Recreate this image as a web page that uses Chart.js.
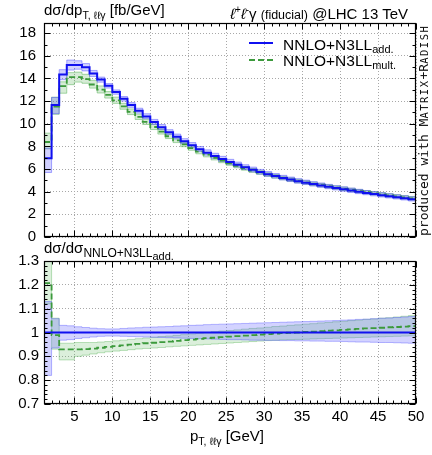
<!DOCTYPE html>
<html>
<head>
<meta charset="utf-8">
<script src="https://cdn.jsdelivr.net/npm/chart.js@4.4.1/dist/chart.umd.min.js"></script>
<style>
  body { margin: 0; width: 432px; height: 455px; background: #fff; position: relative; overflow: hidden;
         font-family: "Liberation Sans", Arial, sans-serif; color: #000; }
  canvas { position: absolute; left: 0; top: 0; }
  .txt { position: absolute; white-space: nowrap; font-size: 15px; line-height: 15px; }
  .sb { font-size: 10.5px; position: relative; top: 4px; }
  .sb2 { font-size: 11px; position: relative; top: 3px; }
  .it { font-style: italic; }
  .leg { position: absolute; height: 0; width: 24px; }
  #credit { position: absolute; left: 417px; top: 236px; transform-origin: 0 0; transform: rotate(-90deg);
            font-family: "DejaVu Sans Mono", monospace; font-size: 13px; line-height: 13px; white-space: nowrap; color: #111; }
  #credit .sc { font-size: 10.5px; letter-spacing: 1.5px; }
</style>
</head>
<body>
<canvas id="top" width="432" height="455"></canvas>
<canvas id="ratio" width="432" height="455"></canvas>

<div class="txt" style="left:44px; top:2px;">dσ/dp<span class="sb">T, ℓℓγ</span> [fb/GeV]</div>
<div class="txt" style="right:24px; top:2px;"><span class="it">ℓ</span><sup style="font-size:10px">+</sup><span class="it">ℓ</span><sup style="font-size:10px">-</sup>γ <span style="font-size:12.5px">(fiducial)</span> @LHC 13 TeV</div>

<div class="leg" style="left:249px; top:42px; border-top:2px solid #1010f0;"></div>
<div class="txt" style="left:283px; top:37px; font-size:15.5px;">NNLO+N3LL<span class="sb2">add.</span></div>
<div class="leg" style="left:249px; top:59px; border-top:2px dashed #3c9a3c;"></div>
<div class="txt" style="left:283px; top:53px; font-size:15.5px;">NNLO+N3LL<span class="sb2">mult.</span></div>

<div class="txt" style="left:44px; top:240px;">dσ/dσ<span style="font-size:12px; position:relative; top:4px;">NNLO+N3LL<span style="font-size:11px; position:relative; top:3px;">add.</span></span></div>

<div class="txt" style="left:190px; top:428px;">p<span class="sb">T, ℓℓγ</span> [GeV]</div>

<div id="credit">produced with M<span class="sc">ATRIX</span>+R<span class="sc">ADISH</span></div>

<script>
// bins are 1 GeV wide, low edges 1..49, last edge 50
const binLow = [1, 2, 3, 4, 5, 6, 7, 8, 9, 10, 11, 12, 13, 14, 15, 16, 17, 18, 19, 20, 21, 22, 23, 24, 25,
  26, 27, 28, 29, 30, 31, 32, 33, 34, 35, 36, 37, 38, 39, 40, 41, 42, 43, 44, 45, 46, 47, 48, 49];
const lastEdge = 50;

// NNLO+N3LL additive, fb/GeV
const add = [6.95, 11.65, 14.35, 15.2, 15.2, 15.0, 14.45, 13.9, 13.35, 12.8, 12.2, 11.65, 11.15, 10.65,
  10.15, 9.7, 9.25, 8.85, 8.45, 8.1, 7.75, 7.45, 7.15, 6.88, 6.62, 6.38, 6.15, 5.94, 5.74, 5.55, 5.38,
  5.22, 5.07, 4.93, 4.8, 4.67, 4.55, 4.43, 4.32, 4.21, 4.1, 3.99, 3.89, 3.79, 3.69, 3.6, 3.51, 3.42, 3.33];

// ratios to the additive central value
const addLo = [0.82, 0.935, 0.968, 0.97, 0.975, 0.978, 0.981, 0.984, 0.985, 0.985, 0.984, 0.983, 0.982,
  0.981, 0.98, 0.979, 0.978, 0.977, 0.976, 0.975, 0.974, 0.973, 0.972, 0.971, 0.97, 0.97, 0.969, 0.968,
  0.968, 0.967, 0.967, 0.966, 0.966, 0.965, 0.965, 0.964, 0.964, 0.963, 0.963, 0.962, 0.961, 0.96, 0.96,
  0.959, 0.958, 0.958, 0.957, 0.956, 0.955];
const addHi = [1.13, 1.058, 1.03, 1.028, 1.024, 1.021, 1.018, 1.016, 1.015, 1.015, 1.017, 1.019, 1.02,
  1.022, 1.023, 1.024, 1.025, 1.027, 1.028, 1.03, 1.031, 1.033, 1.034, 1.035, 1.036, 1.037, 1.038, 1.039,
  1.04, 1.041, 1.042, 1.043, 1.044, 1.045, 1.046, 1.047, 1.048, 1.049, 1.05, 1.052, 1.053, 1.055, 1.056,
  1.058, 1.06, 1.061, 1.063, 1.065, 1.067];
const multRatio = [1.207, 0.989, 0.929, 0.929, 0.929, 0.93, 0.932, 0.936, 0.94, 0.943, 0.946, 0.949,
  0.952, 0.955, 0.957, 0.96, 0.962, 0.965, 0.968, 0.97, 0.973, 0.976, 0.978, 0.981, 0.983, 0.985, 0.987,
  0.989, 0.991, 0.993, 0.995, 0.997, 0.999, 1.0, 1.002, 1.004, 1.006, 1.008, 1.009, 1.011, 1.013, 1.015,
  1.017, 1.018, 1.02, 1.022, 1.023, 1.025, 1.027];
const multLo = [1.12, 0.93, 0.885, 0.885, 0.9, 0.905, 0.91, 0.915, 0.919, 0.922, 0.925, 0.928, 0.931,
  0.933, 0.935, 0.937, 0.94, 0.942, 0.944, 0.946, 0.948, 0.95, 0.952, 0.954, 0.956, 0.958, 0.96, 0.962,
  0.964, 0.966, 0.967, 0.969, 0.97, 0.971, 0.972, 0.973, 0.974, 0.975, 0.976, 0.977, 0.978, 0.979, 0.98,
  0.981, 0.982, 0.983, 0.984, 0.985, 0.986];
const multHi = [1.32, 1.06, 0.955, 0.955, 0.958, 0.958, 0.958, 0.96, 0.962, 0.965, 0.968, 0.971, 0.974,
  0.977, 0.98, 0.983, 0.985, 0.988, 0.991, 0.994, 0.997, 1.0, 1.003, 1.006, 1.008, 1.011, 1.014, 1.017,
  1.019, 1.022, 1.025, 1.027, 1.03, 1.032, 1.035, 1.037, 1.04, 1.042, 1.045, 1.047, 1.05, 1.052, 1.055,
  1.057, 1.06, 1.062, 1.065, 1.068, 1.071];

const xTicks = [5, 10, 15, 20, 25, 30, 35, 40, 45, 50];
const yTicksTop = [0, 2, 4, 6, 8, 10, 12, 14, 16, 18];
const yTicksRatio = [0.7, 0.8, 0.9, 1, 1.1, 1.2, 1.3];

const fontFam = '"Liberation Sans", Arial, sans-serif';
const blue = "#1010f0";
const green = "#3c9a3c";
const gridColor = "#a8a8a8";

function steps(vals) {
  let pts = binLow.map((x, i) => ({ x: x, y: vals[i] }));
  pts.push({ x: lastEdge, y: vals[vals.length - 1] });
  return pts;
}

function times(a, b) {
  return a.map((v, i) => v * b[i]);
}

const mult = times(add, multRatio);
const ones = add.map(() => 1);

function lineSet(vals, color, width, dash, order) {
  return {
    data: steps(vals), stepped: true, borderColor: color, borderWidth: width, borderDash: dash,
    pointRadius: 0, fill: false, order: order,
  };
}

function bandSet(vals, edge, fillTo, fillColor, order) {
  return {
    data: steps(vals), stepped: true, borderColor: edge, borderWidth: 1, pointRadius: 0,
    fill: fillTo === null ? false : fillTo, backgroundColor: fillColor, order: order,
  };
}

// frame and inward ticks on all four sides
const frameTicks = {
  id: "frameTicks",
  afterDraw(chart, args, opts) {
    const { ctx, chartArea: a, scales } = chart;
    const l = Math.round(a.left) + 0.5, r = Math.round(a.right) - 0.5;
    const t = Math.round(a.top) + 0.5, b = Math.round(a.bottom) - 0.5;
    ctx.save();
    ctx.strokeStyle = "#000";
    ctx.lineWidth = 1;
    ctx.beginPath();
    for (let v = 1; v <= 50; v++) {
      let px = Math.round(scales.x.getPixelForValue(v)) + 0.5;
      let len = v % 5 === 0 ? 6 : 3;
      ctx.moveTo(px, b); ctx.lineTo(px, b - len);
      ctx.moveTo(px, t); ctx.lineTo(px, t + len);
    }
    let n = Math.round((opts.max - opts.min) / opts.minor);
    for (let k = 0; k <= n; k++) {
      let py = Math.round(scales.y.getPixelForValue(opts.min + k * opts.minor)) + 0.5;
      let len = k % opts.every === 0 ? 6 : 3;
      ctx.moveTo(l, py); ctx.lineTo(l + len, py);
      ctx.moveTo(r, py); ctx.lineTo(r - len, py);
    }
    ctx.stroke();
    ctx.lineWidth = 1.2;
    ctx.strokeRect(l, t, r - l, b - t);
    ctx.restore();
  },
};

function options(cfg) {
  return {
    responsive: false,
    animation: false,
    events: [],
    layout: { padding: cfg.padding },
    plugins: { legend: { display: false }, tooltip: { enabled: false }, frameTicks: cfg.frame },
    scales: {
      x: {
        type: "linear", min: 1, max: 50,
        afterBuildTicks: (s) => { s.ticks = xTicks.map((v) => ({ value: v })); },
        afterFit: (s) => { s.height = cfg.xHeight; },
        border: { display: false, dash: [1, 2] },
        grid: { color: gridColor, lineWidth: 1, drawTicks: false },
        ticks: {
          display: cfg.showX, padding: 4, color: "#000", font: { family: fontFam, size: 15 },
          maxRotation: 0, autoSkip: false, callback: (v) => String(v),
        },
      },
      y: {
        type: "linear", min: cfg.yMin, max: cfg.yMax,
        afterBuildTicks: (s) => { s.ticks = cfg.yTicks.map((v) => ({ value: v })); },
        afterFit: (s) => { s.width = 44; },
        border: { display: false, dash: [1, 2] },
        grid: { color: gridColor, lineWidth: 1, drawTicks: false },
        ticks: {
          padding: cfg.yPad, color: "#000", font: { family: fontFam, size: 15 },
          autoSkip: false, callback: (v) => String(v),
        },
      },
    },
  };
}

new Chart(document.getElementById("top"), {
  type: "line",
  data: {
    datasets: [
      lineSet(add, blue, 2, [], 0),
      lineSet(mult, green, 1.8, [6, 3], 1),
      bandSet(times(add, addLo), "rgba(70,70,255,0.45)", null, null, 3),
      bandSet(times(add, addHi), "rgba(70,70,255,0.45)", 2, "rgba(70,70,255,0.25)", 3),
      bandSet(times(add, multLo), "rgba(70,170,70,0.45)", null, null, 4),
      bandSet(times(add, multHi), "rgba(70,170,70,0.45)", 4, "rgba(70,170,70,0.22)", 4),
    ],
  },
  options: options({
    padding: { left: 0, right: 16, top: 23, bottom: 218 },
    xHeight: 0, showX: false, yMin: 0, yMax: 18.9, yTicks: yTicksTop, yPad: 8,
    frame: { min: 0, max: 18, minor: 1, every: 2 },
  }),
  plugins: [frameTicks],
});

new Chart(document.getElementById("ratio"), {
  type: "line",
  data: {
    datasets: [
      lineSet(ones, blue, 2, [], 0),
      lineSet(multRatio, green, 1.8, [6, 3], 1),
      bandSet(addLo, "rgba(80,80,255,0.4)", null, null, 3),
      bandSet(addHi, "rgba(80,80,255,0.4)", 2, "rgba(80,80,255,0.25)", 3),
      bandSet(multLo, "rgba(90,180,90,0.4)", null, null, 4),
      bandSet(multHi, "rgba(90,180,90,0.4)", 4, "rgba(90,180,90,0.22)", 4),
    ],
  },
  options: options({
    padding: { left: 0, right: 16, top: 261, bottom: 0 },
    xHeight: 51, showX: true, yMin: 0.7, yMax: 1.3, yTicks: yTicksRatio, yPad: 5,
    frame: { min: 0.7, max: 1.3, minor: 0.02, every: 5 },
  }),
  plugins: [frameTicks],
});
</script>
</body>
</html>
